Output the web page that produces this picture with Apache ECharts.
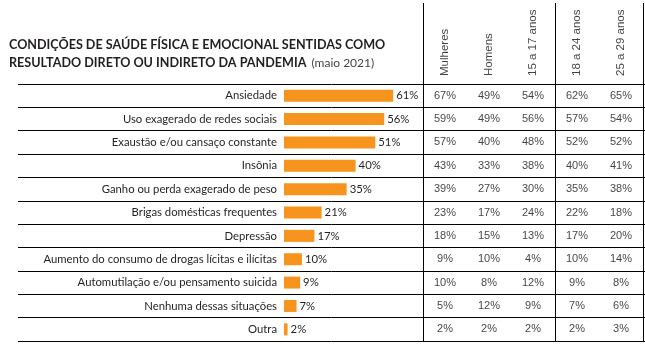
<!DOCTYPE html>
<html>
<head>
<meta charset="utf-8">
<script src="https://cdn.jsdelivr.net/npm/echarts@6/dist/echarts.min.js"></script>
<style>
  html, body { margin: 0; padding: 0; background: #fff; }
  #chart { width: 645px; height: 344px; }
</style>
</head>
<body>
<div id="chart"></div>
<script>
// Condições sentidas como resultado da pandemia (total, %)
const categories = [
  'Ansiedade',
  'Uso exagerado de redes sociais',
  'Exaustão e/ou cansaço constante',
  'Insônia',
  'Ganho ou perda exagerado de peso',
  'Brigas domésticas frequentes',
  'Depressão',
  'Aumento do consumo de drogas lícitas e ilícitas',
  'Automutilação e/ou pensamento suicida',
  'Nenhuma dessas situações',
  'Outra'
];
const totalValues = [61, 56, 51, 40, 35, 21, 17, 10, 9, 7, 2];

// Breakdown table columns
const groupLabels = ['Mulheres', 'Homens', '15 a 17 anos', '18 a 24 anos', '25 a 29 anos'];
const mulheres = [67, 59, 57, 43, 39, 23, 18, 9, 10, 5, 2];
const homens   = [49, 49, 40, 33, 27, 17, 15, 10, 8, 12, 2];
const idade15a17 = [54, 56, 48, 38, 30, 24, 13, 4, 12, 9, 2];
const idade18a24 = [62, 57, 52, 40, 35, 22, 17, 10, 9, 7, 2];
const idade25a29 = [65, 54, 52, 41, 38, 18, 20, 14, 8, 6, 3];

const groupSeries = [mulheres, homens, idade15a17, idade18a24, idade25a29];

const TEXT = '#231f20';
const HUMANIST = 'Lato, "Open Sans", sans-serif';
const ARIAL = '"Liberation Sans", Arial, sans-serif';

// Cells of the table as [column, row, value]
const cells = [];
groupSeries.forEach((arr, c) => arr.forEach((v, r) => cells.push([c, r, v])));

// Column headings sit at the bottom of the header band
const headerCells = groupLabels.map((name, c) => [c, 0, name]);

const ROWS_TOP = 84, ROWS_H = 257;
const lineColors = ['#000', '#000', '#000', '#000', '#000', 'rgba(0,0,0,0)'];

const chart = echarts.init(document.getElementById('chart'), null, { renderer: 'canvas' });

chart.setOption({
  animation: false,
  title: {
    left: 4, top: 31,
    text: '{b|CONDIÇÕES DE SAÚDE FÍSICA E EMOCIONAL SENTIDAS COMO}\n{b|RESULTADO DIRETO OU INDIRETO DA PANDEMIA} {n|(maio 2021)}',
    textStyle: {
      rich: {
        b: { fontFamily: HUMANIST, fontWeight: 'bold', fontSize: 12.6, color: TEXT, lineHeight: 18 },
        n: { fontFamily: HUMANIST, fontWeight: 'normal', fontSize: 12, color: '#444', lineHeight: 18 }
      }
    }
  },
  grid: [
    // bars
    { left: 284, width: 179, top: ROWS_TOP, height: ROWS_H },
    // horizontal row rules across the full width
    { left: 18, right: 0, top: ROWS_TOP, height: ROWS_H },
    // table body
    { left: 423, width: 220, top: ROWS_TOP, height: ROWS_H },
    // table header
    { left: 423, width: 220, top: 3, height: ROWS_TOP - 3 }
  ],
  xAxis: [
    { gridIndex: 0, type: 'value', min: 0, max: 100, show: false },
    { gridIndex: 1, type: 'value', min: 0, max: 1, show: false },
    {
      gridIndex: 2, type: 'category', data: groupLabels,
      axisLine: { show: false }, axisTick: { show: false }, axisLabel: { show: false },
      splitLine: { show: true, lineStyle: { color: lineColors, width: 1 } }
    },
    {
      gridIndex: 3, type: 'category', data: groupLabels,
      axisLine: { show: false }, axisTick: { show: false }, axisLabel: { show: false },
      splitLine: { show: true, lineStyle: { color: lineColors, width: 1 } }
    }
  ],
  yAxis: [
    {
      gridIndex: 0, type: 'category', data: categories, inverse: true,
      axisLine: { show: false }, axisTick: { show: false },
      axisLabel: { margin: 7, color: TEXT, fontFamily: HUMANIST, fontSize: 11.3, interval: 0 }
    },
    {
      gridIndex: 1, type: 'category', data: categories, inverse: true,
      axisLine: { show: false }, axisTick: { show: false }, axisLabel: { show: false },
      splitLine: { show: true, lineStyle: { color: '#000', width: 1 } }
    },
    {
      gridIndex: 2, type: 'category', data: categories, inverse: true, show: false
    },
    { gridIndex: 3, type: 'value', min: 0, max: 1, show: false }
  ],
  series: [
    {
      type: 'bar', xAxisIndex: 0, yAxisIndex: 0,
      data: totalValues, barWidth: 12,
      itemStyle: { color: '#f7941d' },
      label: {
        show: true, position: 'right', distance: 3,
        formatter: '{c}%', color: TEXT, fontFamily: HUMANIST, fontSize: 11.3
      }
    },
    {
      type: 'scatter', xAxisIndex: 2, yAxisIndex: 2,
      data: cells, symbolSize: 0, silent: true,
      label: {
        show: true, position: 'inside',
        formatter: p => p.value[2] + '%',
        color: '#111', fontFamily: ARIAL, fontSize: 11
      }
    },
    {
      type: 'scatter', xAxisIndex: 3, yAxisIndex: 3,
      data: headerCells, symbolSize: 0, silent: true,
      label: {
        show: true, position: [0, -8], rotate: 90,
        align: 'left', verticalAlign: 'middle',
        formatter: p => p.value[2],
        color: '#111', fontFamily: ARIAL, fontSize: 11.5
      }
    }
  ]
});
</script>
</body>
</html>
